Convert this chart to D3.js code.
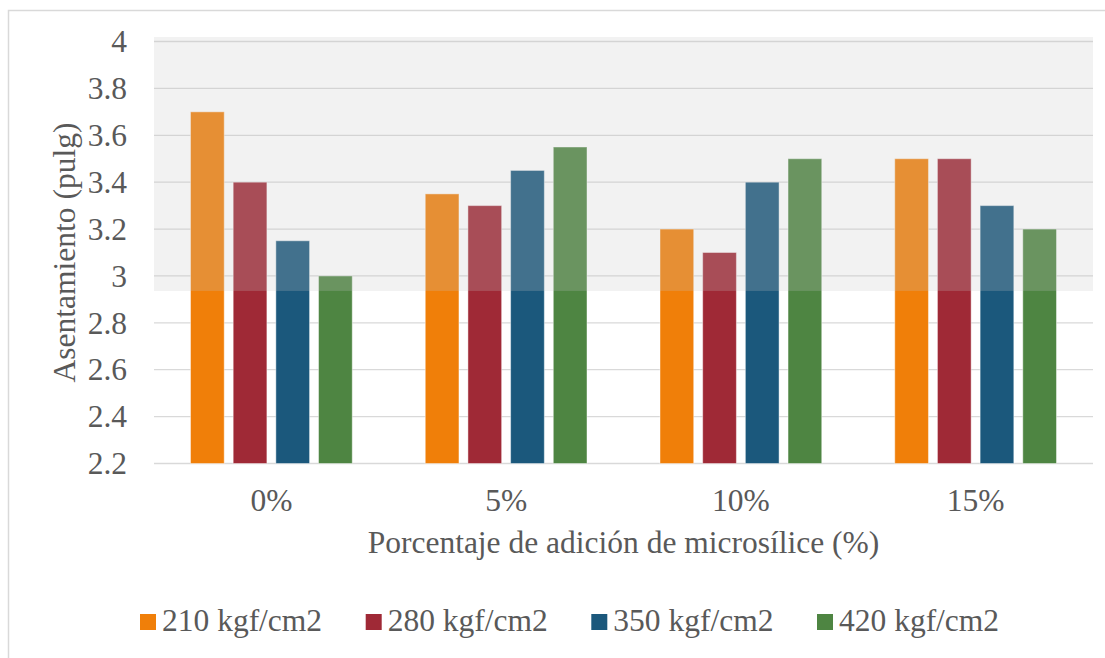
<!DOCTYPE html>
<html>
<head>
<meta charset="utf-8">
<script src="https://cdn.jsdelivr.net/npm/d3@7"></script>
<style>
  html, body { margin: 0; padding: 0; background: #fff; }
  svg { display: block; }
</style>
</head>
<body>
<svg id="chart" width="1105" height="658"></svg>
<script>
// Slump by microsilica addition, one series per concrete strength
const categories = ["0%", "5%", "10%", "15%"];
const seriesNames = ["210 kgf/cm2", "280 kgf/cm2", "350 kgf/cm2", "420 kgf/cm2"];
const values210 = [3.70, 3.35, 3.20, 3.50];
const values280 = [3.40, 3.30, 3.10, 3.50];
const values350 = [3.15, 3.45, 3.40, 3.30];
const values420 = [3.00, 3.55, 3.50, 3.20];
const yTicks = [2.2, 2.4, 2.6, 2.8, 3, 3.2, 3.4, 3.6, 3.8, 4];
const bandFrom = 2.936;   // lower edge of the shaded band
const colors = ["#F07F09", "#9F2936", "#1B587C", "#4E8542"];

const seriesValues = [values210, values280, values350, values420];
const FONT = '"Liberation Serif"';
const TEXT = "#595959";
const FS = 31.5;

const svg = d3.select("#chart");
const plot = { left: 154, right: 1093, top: 41.5, bottom: 463.5 };

const x0 = d3.scaleBand().domain(categories).range([plot.left, plot.right]).paddingInner(0).paddingOuter(0);
const x1 = d3.scaleBand().domain(seriesNames).range([36.5, x0.bandwidth() - 36.5]).paddingInner(0.21);
const y = d3.scaleLinear().domain([2.2, 4]).range([plot.bottom, plot.top]);

function label(sel) {
  return sel.style("font-family", FONT).style("font-size", FS + "px").attr("fill", TEXT);
}

// outer frame
svg.append("rect")
  .attr("x", 8.5).attr("y", 10.5).attr("width", 1120).attr("height", 700)
  .attr("fill", "none").attr("stroke", "#d9d9d9").attr("stroke-width", 1.5);

// gridlines
svg.append("g").selectAll("line").data(yTicks).join("line")
  .attr("x1", plot.left).attr("x2", plot.right)
  .attr("y1", d => y(d)).attr("y2", d => y(d))
  .attr("stroke", "#d9d9d9").attr("stroke-width", d => d === 2.2 ? 1.5 : 1.3);

// bars
const rows = categories.map((c, i) => ({ cat: c, vals: seriesNames.map((s, j) => ({ s, j, v: seriesValues[j][i] })) }));
svg.append("g").selectAll("g").data(rows).join("g")
  .attr("transform", d => `translate(${x0(d.cat)},0)`)
  .selectAll("rect").data(d => d.vals).join("rect")
  .attr("x", d => x1(d.s))
  .attr("width", x1.bandwidth())
  .attr("y", d => y(d.v))
  .attr("height", d => y(2.2) - y(d.v))
  .attr("fill", d => colors[d.j])
  .attr("stroke", "rgba(255,255,255,0.45)").attr("stroke-width", 1);

// translucent shaded band laid over the upper part of the plot
svg.append("rect")
  .attr("x", plot.left).attr("width", plot.right - plot.left)
  .attr("y", y(4) - 4.5).attr("height", y(bandFrom) - y(4) + 4.5)
  .attr("fill", "rgb(198,198,198)").attr("fill-opacity", 0.23);

// y tick labels
svg.append("g").selectAll("text").data(yTicks).join("text")
  .call(label)
  .attr("x", 127).attr("y", d => y(d)).attr("dy", "0.34em")
  .attr("text-anchor", "end")
  .text(d => d3.format("~g")(d));

// x tick labels
svg.append("g").selectAll("text").data(categories).join("text")
  .call(label)
  .attr("x", d => x0(d) + x0.bandwidth() / 2).attr("y", 511)
  .attr("text-anchor", "middle")
  .text(d => d);

// axis titles
svg.append("text").call(label)
  .attr("x", (plot.left + plot.right) / 2).attr("y", 553)
  .attr("text-anchor", "middle")
  .text("Porcentaje de adición de microsílice (%)");

svg.append("text").call(label)
  .attr("transform", `translate(75,${(plot.top + plot.bottom) / 2}) rotate(-90)`)
  .attr("text-anchor", "middle")
  .text("Asentamiento (pulg)");

// legend
const legend = svg.append("g");
const legendX = [140, 365.7, 591.3, 817];
seriesNames.forEach((name, i) => {
  const g = legend.append("g").attr("transform", `translate(${legendX[i]},0)`);
  g.append("rect").attr("x", 0).attr("y", 614).attr("width", 16).attr("height", 16).attr("fill", colors[i]);
  g.append("text").call(label).attr("x", 22).attr("y", 631).text(name);
});
</script>
</body>
</html>
